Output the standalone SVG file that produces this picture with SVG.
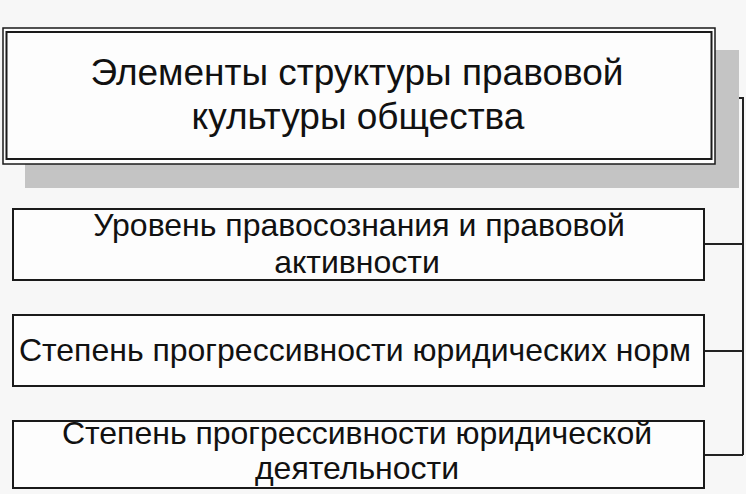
<svg xmlns="http://www.w3.org/2000/svg" width="746" height="494" viewBox="0 0 746 494">
<style>
.t{font-family:"Liberation Sans",Arial,sans-serif;fill:#111;text-anchor:middle}
.big{font-size:37px}
.sm{font-size:32px}
.box{fill:#fdfdfd;stroke:#1a1a1a;stroke-width:2}
.con{fill:none;stroke:#222;stroke-width:2}
</style>
<rect width="746" height="494" fill="#f7f7f7"/>
<g id="connectors">
<polyline class="con" points="715,98 743,98 743,455"/>
<line class="con" x1="704" y1="244" x2="743" y2="244"/>
<line class="con" x1="704" y1="351" x2="743" y2="351"/>
<line class="con" x1="704" y1="455" x2="743" y2="455"/>
</g>
<g id="title">
<rect x="25" y="50" width="714" height="138" fill="#c4c4c4"/>
<rect x="3" y="28" width="712" height="136" fill="#fdfdfd" stroke="#1a1a1a" stroke-width="1.5"/>
<rect x="6.5" y="32" width="705" height="127" fill="none" stroke="#1a1a1a" stroke-width="2"/>
<text class="t big" x="357" y="85">Элементы структуры правовой</text>
<text class="t big" x="358" y="129">культуры общества</text>
</g>
<g id="n1">
<rect class="box" x="13" y="209" width="691" height="71"/>
<text class="t sm" x="359" y="236">Уровень правосознания и правовой</text>
<text class="t sm" x="357" y="273">активности</text>
</g>
<g id="n2">
<rect class="box" x="13" y="315" width="691" height="71"/>
<text class="t sm" x="355" y="361">Степень прогрессивности юридических норм</text>
</g>
<g id="n3">
<rect class="box" x="13" y="421" width="691" height="67"/>
<text class="t sm" x="357" y="444">Степень прогрессивности юридической</text>
<text class="t sm" x="357" y="479">деятельности</text>
</g>
</svg>
